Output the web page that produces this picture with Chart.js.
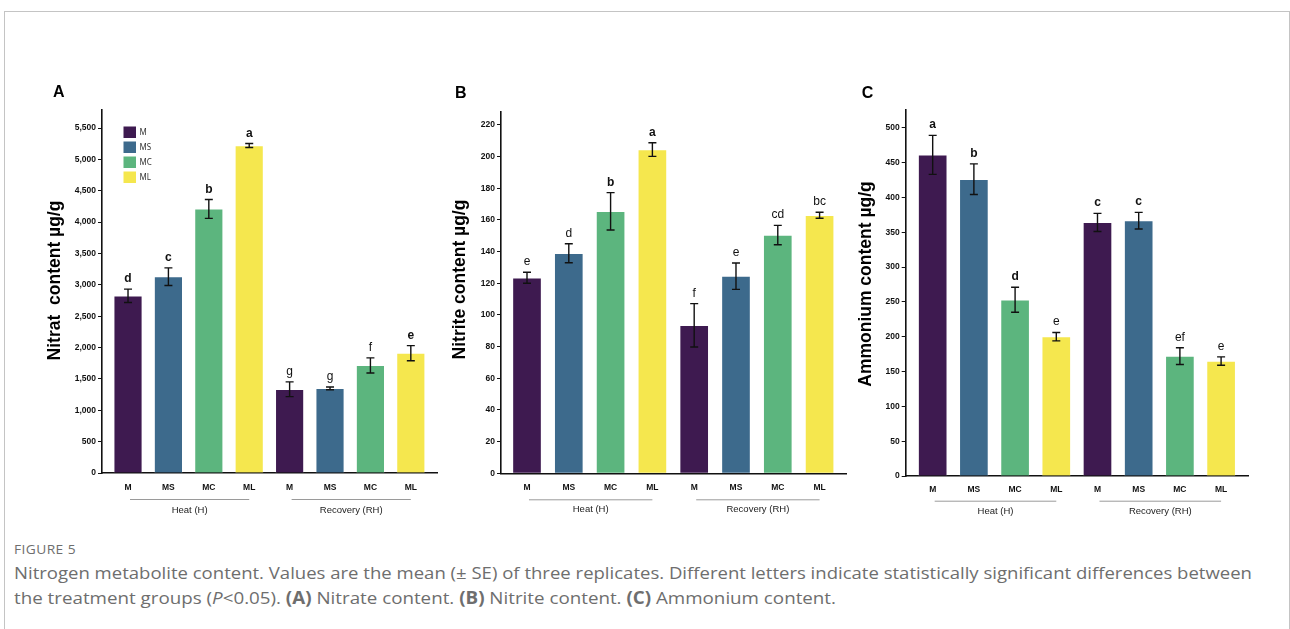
<!DOCTYPE html>
<html><head><meta charset="utf-8">
<script src="https://cdn.jsdelivr.net/npm/chart.js@4.4.1/dist/chart.umd.min.js"></script>
<style>
html,body{margin:0;padding:0;background:#fff;width:1290px;height:629px;overflow:hidden;}
#frame{position:absolute;left:4px;top:11px;width:1286px;height:700px;border:1px solid #c4c4c4;border-bottom:none;box-sizing:border-box;}
canvas{position:absolute;top:70px;}
#ca{left:30px;}
#cb{left:440px;}
#cc{left:850px;}
.capline{position:absolute;left:14px;white-space:nowrap;color:#6e6e6e;font-family:"Open Sans","Noto Sans",sans-serif;transform-origin:0 50%;}
#fig{top:540px;font-size:13px;line-height:18px;letter-spacing:0.4px;}
#cap1{top:560px;font-size:17px;line-height:25px;}
#cap2{top:585px;font-size:17px;line-height:25px;}
</style>
</head><body>
<div id="frame"></div>
<canvas id="ca" width="410" height="460"></canvas>
<canvas id="cb" width="410" height="460"></canvas>
<canvas id="cc" width="410" height="460"></canvas>
<div id="fig" class="capline">FIGURE 5</div>
<div id="cap1" class="capline">Nitrogen metabolite content. Values are the mean (±&nbsp;SE) of three replicates. Different letters indicate statistically significant differences between</div>
<div id="cap2" class="capline">the treatment groups (<i>P</i>&lt;0.05). <b>(A)</b> Nitrate content. <b>(B)</b> Nitrite content. <b>(C)</b> Ammonium content.</div>
<script>
// ---------- data ----------
const categories = ['M','MS','MC','ML','M','MS','MC','ML'];
const groupLabels = ['Heat (H)','Recovery (RH)'];
const legendLabels = ['M','MS','MC','ML'];

const nitrate = [2825, 3130, 4210, 5220, 1335, 1350, 1715, 1910];
const nitrateSE = [107, 140, 150, 32, 117, 22, 120, 120];
const nitrateLetters = ['d','c','b','a','g','g','f','e'];
const nitrateTicks = [0, 500, 1000, 1500, 2000, 2500, 3000, 3500, 4000, 4500, 5000, 5500];

const nitrite = [123.5, 139, 165.5, 204.5, 93.5, 124.5, 150.5, 163];
const nitriteSE = [3.5, 6, 11.8, 4.3, 13.7, 8.3, 6.1, 1.9];
const nitriteLetters = ['e','d','b','a','f','e','cd','bc'];
const nitriteTicks = [0, 20, 40, 60, 80, 100, 120, 140, 160, 180, 200, 220];

const ammonium = [461, 426, 253, 200, 364, 366.5, 172, 165];
const ammoniumSE = [28, 22, 18, 6, 13, 12, 12, 6];
const ammoniumLetters = ['a','b','d','e','c','c','ef','e'];
const ammoniumTicks = [0, 50, 100, 150, 200, 250, 300, 350, 400, 450, 500];

// ---------- style ----------
const barColors = ['#3e1a50','#3d6a8c','#5cb57e','#f5e74e','#3e1a50','#3d6a8c','#5cb57e','#f5e74e'];
const FAM = '"Liberation Sans", Arial, Helvetica, sans-serif';
Chart.defaults.font.family = FAM;
Chart.defaults.color = '#111';

function panelPlugin(p) {
  return {
    id: 'panel' + p.letter,
    afterDatasetsDraw(chart) {
      const ctx = chart.ctx, xs = chart.scales.x, ys = chart.scales.y;
      const ds = chart.data.datasets[0];
      ctx.save();
      ctx.strokeStyle = '#111';
      ctx.lineWidth = 1.4;
      ds.data.forEach((d, i) => {
        const x = xs.getPixelForValue(d.x);
        const yt = ys.getPixelForValue(d.y + ds.errors[i]);
        const yb = ys.getPixelForValue(d.y - ds.errors[i]);
        ctx.beginPath();
        ctx.moveTo(x, yt); ctx.lineTo(x, yb);
        ctx.moveTo(x - 4, yt); ctx.lineTo(x + 4, yt);
        ctx.moveTo(x - 4, yb); ctx.lineTo(x + 4, yb);
        ctx.stroke();
        ctx.font = (p.bold[i] ? 'bold ' : '') + '12px ' + FAM;
        ctx.fillStyle = '#111';
        ctx.textAlign = 'center';
        ctx.textBaseline = 'alphabetic';
        ctx.fillText(ds.letters[i], x, yt - 7);
      });
      ctx.restore();
    },
    afterDraw(chart) {
      const ctx = chart.ctx, ca = chart.chartArea, xs = chart.scales.x;
      ctx.save();
      // panel letter
      ctx.fillStyle = '#000';
      ctx.font = 'bold 16px ' + FAM;
      ctx.textAlign = 'left';
      ctx.textBaseline = 'alphabetic';
      ctx.fillText(p.letter, ca.left + p.letterDX, ca.top + p.letterDY);
      // y title
      ctx.save();
      ctx.translate(ca.left + p.titleDX, p.titleY);
      ctx.rotate(-Math.PI / 2);
      ctx.font = 'bold 17.5px ' + FAM;
      ctx.textAlign = 'center';
      ctx.textBaseline = 'alphabetic';
      ctx.fillText(p.title, 0, 0);
      ctx.restore();
      // group lines + labels
      const groups = [[0, 3], [4, 7]];
      groups.forEach((g, gi) => {
        const x1 = xs.getPixelForValue(g[0]) + 2;
        const x2 = xs.getPixelForValue(g[1]);
        const yl = ca.bottom + p.lineDY;
        ctx.strokeStyle = '#9a9a9a';
        ctx.lineWidth = 1;
        ctx.beginPath();
        ctx.moveTo(x1, yl + 0.5); ctx.lineTo(x2, yl + 0.5);
        ctx.stroke();
        ctx.fillStyle = '#222';
        ctx.font = '9.5px ' + FAM;
        ctx.textAlign = 'center';
        ctx.textBaseline = 'middle';
        ctx.fillText(groupLabels[gi], (x1 + x2) / 2, ca.bottom + p.labelDY);
      });
      // legend
      if (p.legend) {
        legendLabels.forEach((l, i) => {
          const bx = ca.left + 21.5, by = ca.top + 16.5 + i * 15;
          ctx.fillStyle = barColors[i];
          ctx.fillRect(bx, by, 12.5, 11.5);
          ctx.fillStyle = '#333';
          ctx.font = '8px "Noto Sans", ' + FAM;
          ctx.textAlign = 'left';
          ctx.textBaseline = 'middle';
          ctx.fillText(l, bx + 16, by + 6);
        });
      }
      ctx.restore();
    }
  };
}

function makeChart(id, p) {
  const data = p.values.map((v, i) => ({ x: i, y: v }));
  return new Chart(document.getElementById(id), {
    type: 'bar',
    data: {
      datasets: [{
        data: data,
        errors: p.se,
        letters: p.letters,
        backgroundColor: barColors,
        borderColor: 'rgba(255,255,255,0.35)',
        borderWidth: 1,
        barThickness: p.barW
      }]
    },
    options: {
      responsive: false,
      animation: false,
      devicePixelRatio: 1,
      layout: { padding: { left: 0, right: p.padR, top: p.padT, bottom: 0 } },
      plugins: { legend: { display: false }, tooltip: { enabled: false } },
      scales: {
        x: {
          type: 'linear',
          min: p.xmin, max: p.xmax,
          offset: false,
          grid: { display: false, drawTicks: false },
          border: { color: '#111', width: 1.6 },
          afterBuildTicks: s => { s.ticks = categories.map((c, i) => ({ value: i })); },
          afterFit: s => { s.height = p.xH; },
          ticks: {
            autoSkip: false, maxRotation: 0, padding: p.xPad,
            font: { size: 8.5, weight: 'bold' }, color: '#111',
            callback: v => categories[v]
          }
        },
        y: {
          min: 0, max: p.ymax,
          grid: { display: true, drawOnChartArea: false, drawTicks: true, tickLength: 4, color: '#111', lineWidth: 1 },
          border: { color: '#111', width: 1.6 },
          afterBuildTicks: s => { s.ticks = p.ticks.map(v => ({ value: v })); },
          afterFit: s => { s.width = p.yW; },
          ticks: {
            padding: 2,
            font: { size: 8.5, weight: 'bold' }, color: '#111',
            callback: v => v.toLocaleString('en-US')
          }
        }
      }
    },
    plugins: [panelPlugin(p)]
  });
}

makeChart('ca', {
  letter: 'A', values: nitrate, se: nitrateSE, letters: nitrateLetters, ticks: nitrateTicks,
  bold: [1,1,1,1,0,0,0,1], title: 'Nitrat  content µg/g', legend: true,
  ymax: 5787, xmin: -0.644, xmax: 7.648, barW: 28.5,
  yW: 72, xH: 57, padR: 3, padT: 40, xPad: 9.4,
  letterDX: -49, letterDY: -13, titleDX: -42, titleY: 210.5, lineDY: 26, labelDY: 37
});
makeChart('cb', {
  letter: 'B', values: nitrite, se: nitriteSE, letters: nitriteLetters, ticks: nitriteTicks,
  bold: [0,0,1,1,0,0,0,0], title: 'Nitrite content µg/g', legend: false,
  ymax: 228.4, xmin: -0.622, xmax: 7.632, barW: 29,
  yW: 61, xH: 56.7, padR: 4, padT: 41.7, xPad: 9.4,
  letterDX: -46, letterDY: -14, titleDX: -36, titleY: 209.5, lineDY: 26, labelDY: 36
});
makeChart('cc', {
  letter: 'C', values: ammonium, se: ammoniumSE, letters: ammoniumLetters, ticks: ammoniumTicks,
  bold: [1,1,1,0,1,1,0,0], title: 'Ammonium content µg/g', legend: false,
  ymax: 525.4, xmin: -0.655, xmax: 7.653, barW: 29,
  yW: 55.7, xH: 54, padR: 12, padT: 40, xPad: 9,
  letterDX: -44, letterDY: -12.5, titleDX: -35, titleY: 214, lineDY: 24.7, labelDY: 35.7
});

// fit caption lines to the reference widths
function fit(id, target) {
  const el = document.getElementById(id);
  const w = el.getBoundingClientRect().width;
  el.style.transform = 'scaleX(' + (target / w) + ')';
}
fit('cap1', 1238);
fit('cap2', 822);
fit('fig', 62);
</script>
</body></html>
